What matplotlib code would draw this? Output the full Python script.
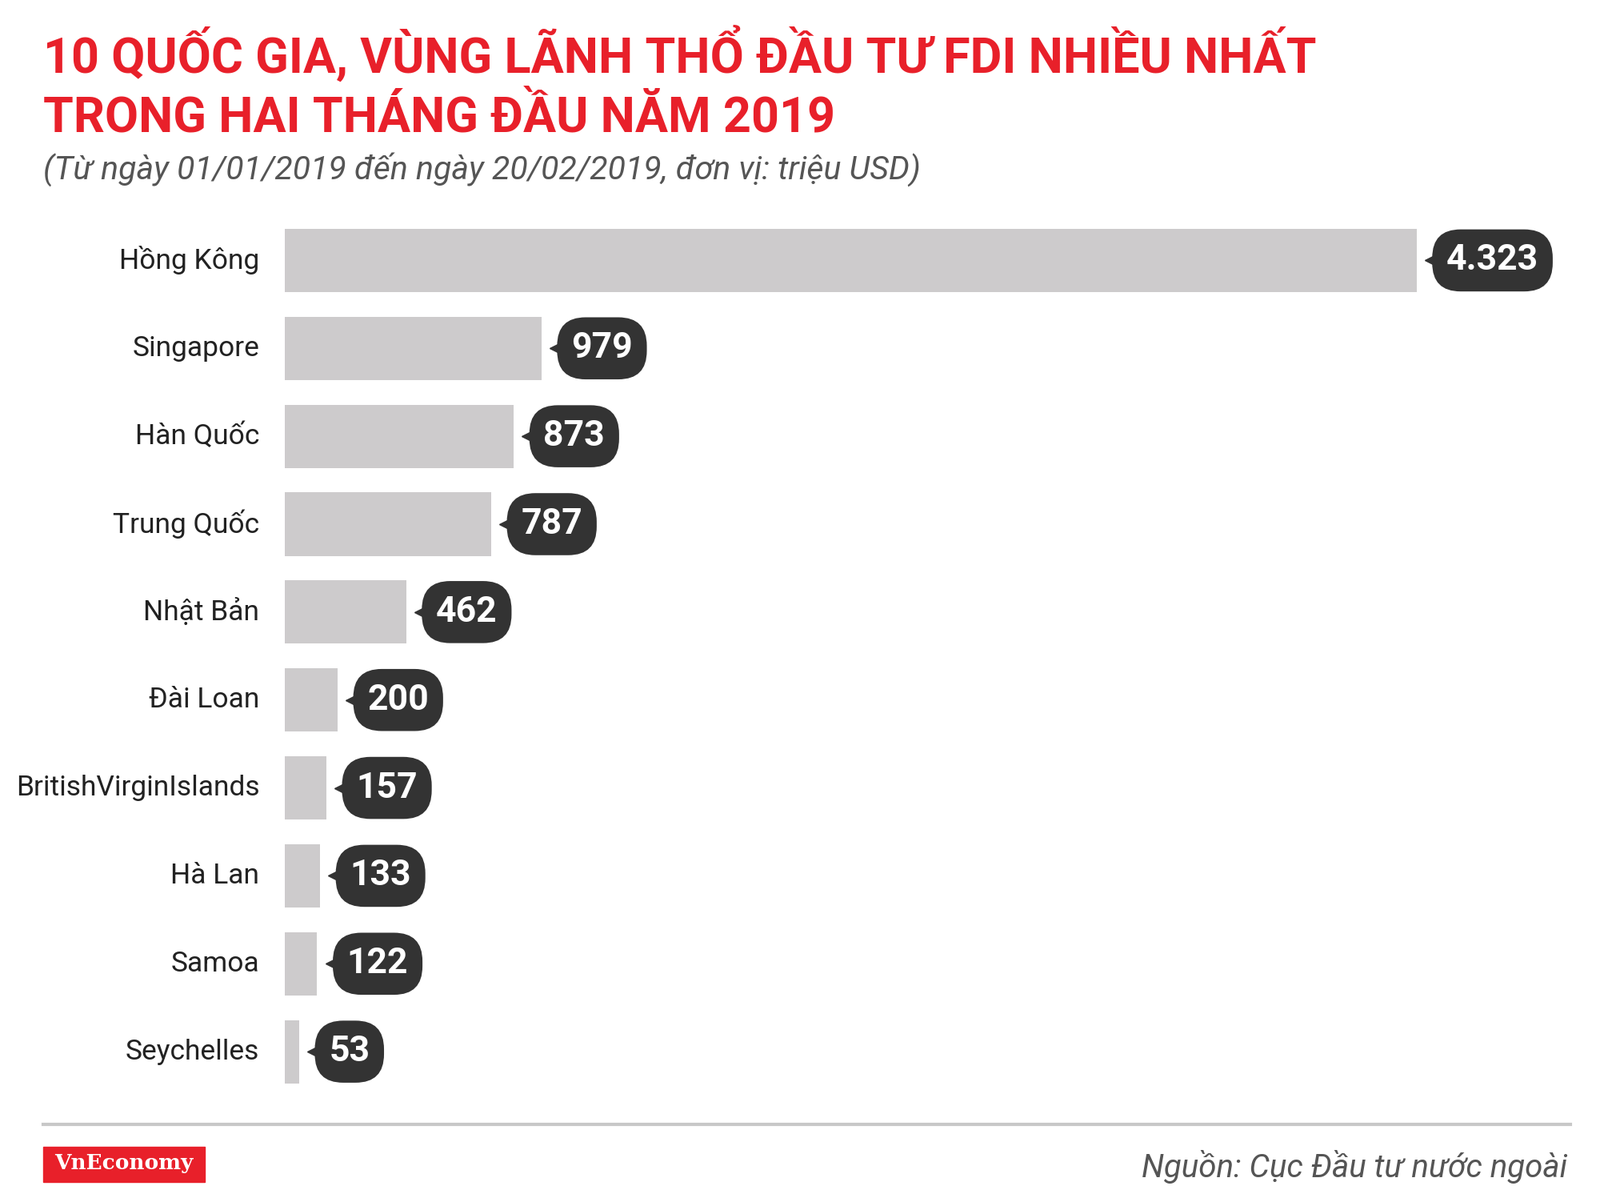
import matplotlib.pyplot as plt
from matplotlib.patches import Rectangle

countries = ["Hồng Kông", "Singapore", "Hàn Quốc", "Trung Quốc", "Nhật Bản",
             "Đài Loan", "BritishVirginIslands", "Hà Lan", "Samoa", "Seychelles"]
values = [4323, 979, 873, 787, 462, 200, 157, 133, 122, 53]
labels = ["4.323", "979", "873", "787", "462", "200", "157", "133", "122", "53"]

W, H = 1560, 1160  # layout measured on the reference at this size
fig = plt.figure(figsize=(20, 14.87), dpi=100)
fig.patch.set_facecolor("white")

def fx(x): return x / W
def fy(y): return 1 - y / H

ax = fig.add_axes([fx(278), fy(1068), fx(1381) - fx(278), fy(211) - fy(1068)])
ax.barh(range(len(values)), values, height=0.72, color="#cdcbcc")
ax.set_xlim(0, 4323)
ax.set_ylim(len(values) - 0.5, -0.5)
ax.axis("off")

for i, (v, lab) in enumerate(zip(values, labels)):
    ax.annotate("", (v, i), xytext=(0, 0), textcoords="offset points")
    ax.plot(v, i, marker="<", markersize=13, color="#333333", clip_on=False,
            transform=ax.transData, markevery=None)
    ax.annotate(lab, (v, i), xytext=(27, 0), textcoords="offset points",
                ha="left", va="center", fontsize=32, fontweight="bold",
                color="white", family="Roboto", annotation_clip=False,
                bbox=dict(boxstyle="round,pad=0.4,rounding_size=0.8",
                          fc="#333333", ec="none"))
    ax.annotate(countries[i], (0, i), xytext=(-23, 0), textcoords="offset points",
                ha="right", va="center", fontsize=25.5, color="#222222",
                family="Roboto", annotation_clip=False)

# shift the pointer triangles a little away from the bar ends
for line in ax.lines:
    line.set_transform(ax.transData + plt.matplotlib.transforms.ScaledTranslation(
        14 / 72, 0, fig.dpi_scale_trans))

fig.text(fx(42), fy(52), "10 QUỐC GIA, VÙNG LÃNH THỔ ĐẦU TƯ FDI NHIỀU NHẤT",
         fontsize=44, fontweight="bold", color="#e8202a", family="Roboto",
         va="center", ha="left")
fig.text(fx(42), fy(115), "TRONG HAI THÁNG ĐẦU NĂM 2019",
         fontsize=44, fontweight="bold", color="#e8202a", family="Roboto",
         va="center", ha="left")
fig.text(fx(42), fy(165), "(Từ ngày 01/01/2019 đến ngày 20/02/2019, đơn vị: triệu USD)",
         fontsize=29.5, style="italic", color="#555555", family="Roboto",
         va="center", ha="left")

fig.add_artist(plt.Line2D([fx(42), fx(1531)], [fy(1096), fy(1096)],
                          color="#c8c8c8", lw=3, transform=fig.transFigure))
fig.add_artist(Rectangle((fx(42), fy(1152)), fx(200) - fx(42), fy(1118) - fy(1152),
                         color="#e8202a", transform=fig.transFigure))
fig.text(fx(121), fy(1134), "VnEconomy", fontsize=19, fontweight="bold",
         color="white", family="DejaVu Serif", ha="center", va="center")
fig.text(fx(1528), fy(1137), "Nguồn: Cục Đầu tư nước ngoài", fontsize=29,
         style="italic", color="#555555", family="Roboto", ha="right", va="center")

fig.savefig("out.png", dpi=100)
